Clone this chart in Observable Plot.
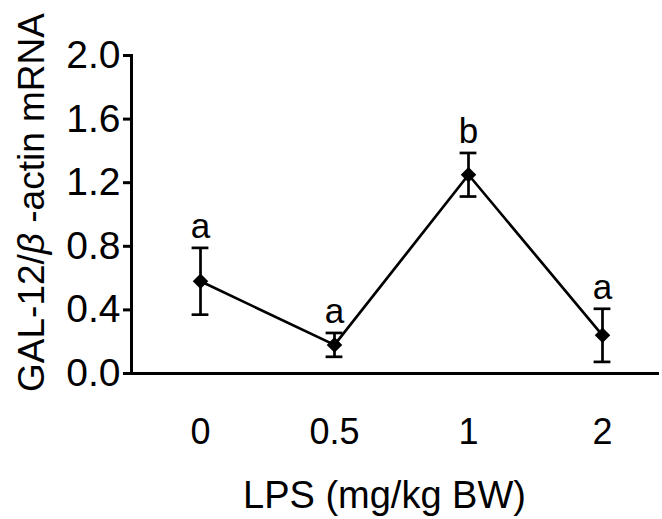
<!DOCTYPE html>
<html>
<head>
<meta charset="utf-8">
<script src="https://cdn.jsdelivr.net/npm/d3@7"></script>
<script src="https://cdn.jsdelivr.net/npm/@observablehq/plot@0.6"></script>
<style>
  html, body { margin: 0; padding: 0; background: white; }
</style>
</head>
<body>
<div id="chart"></div>
<script>
const doses = ["0", "0.5", "1", "2"];
const means = [0.58, 0.18, 1.25, 0.24];
const sems = [0.21, 0.075, 0.137, 0.167];
const letters = ["a", "a", "b", "a"];
const yTicks = [0, 0.4, 0.8, 1.2, 1.6, 2.0];
const xLabel = "LPS (mg/kg BW)";
const yLabel = "GAL-12/β -actin mRNA";

const data = doses.map((d, i) => ({
  dose: d, mean: means[i], lo: means[i] - sems[i], hi: means[i] + sems[i], letter: letters[i]
}));

const font = "'Liberation Sans', Arial, Helvetica, sans-serif";
const capInset = 58.6;

const chart = Plot.plot({
  width: 662,
  height: 519,
  marginLeft: 131,
  marginRight: 3,
  marginTop: 55,
  marginBottom: 146,
  style: { fontFamily: font, background: "white", color: "black" },
  x: { type: "band", domain: doses, padding: 0, insetLeft: 1, insetRight: -10 },
  y: { domain: [0, 2] },
  marks: [
    Plot.axisY({ ticks: yTicks, tickFormat: d3.format(".1f"), tickSize: 8, tickPadding: 3,
                 fontSize: 39, strokeWidth: 3, label: null, fill: "black" }),
    Plot.axisX({ tickSize: 0, tickPadding: 45, fontSize: 36, label: null, fill: "black" }),
    Plot.frame({ anchor: "left", strokeWidth: 3, stroke: "black" }),
    Plot.ruleY([0], { strokeWidth: 3, stroke: "black" }),
    Plot.ruleX(data, { x: "dose", y1: "lo", y2: "hi", strokeWidth: 2.7, stroke: "black" }),
    Plot.tickY(data, { x: "dose", y: "hi", insetLeft: capInset, insetRight: capInset, strokeWidth: 2.7, stroke: "black" }),
    Plot.tickY(data, { x: "dose", y: "lo", insetLeft: capInset, insetRight: capInset, strokeWidth: 2.7, stroke: "black" }),
    Plot.line(data, { x: "dose", y: "mean", strokeWidth: 2.7, stroke: "black" }),
    Plot.dot(data, { x: "dose", y: "mean", symbol: "diamond2", r: 7, fill: "black", stroke: "none" }),
    Plot.text(data, { x: "dose", y: "hi", text: "letter", dy: -10, lineAnchor: "bottom", fontSize: 35, fill: "black" }),
    Plot.text([xLabel], { frameAnchor: "bottom", dx: -11, dy: 134, lineAnchor: "bottom", fontSize: 38, fill: "black" }),
    Plot.text([yLabel], { frameAnchor: "left", dx: -88, dy: -12, rotate: -90, textAnchor: "middle",
                          lineAnchor: "bottom", fontSize: 37, fill: "black" })
  ]
});

// italic beta in the y title
d3.select(chart).selectAll("text").each(function () {
  const t = d3.select(this);
  if (this.textContent === yLabel) {
    const parts = yLabel.split("β");
    t.text(null);
    t.append("tspan").text(parts[0]);
    t.append("tspan").attr("font-style", "italic").text("β");
    t.append("tspan").text(parts[1]);
  }
});

document.getElementById("chart").appendChild(chart);
</script>
</body>
</html>
